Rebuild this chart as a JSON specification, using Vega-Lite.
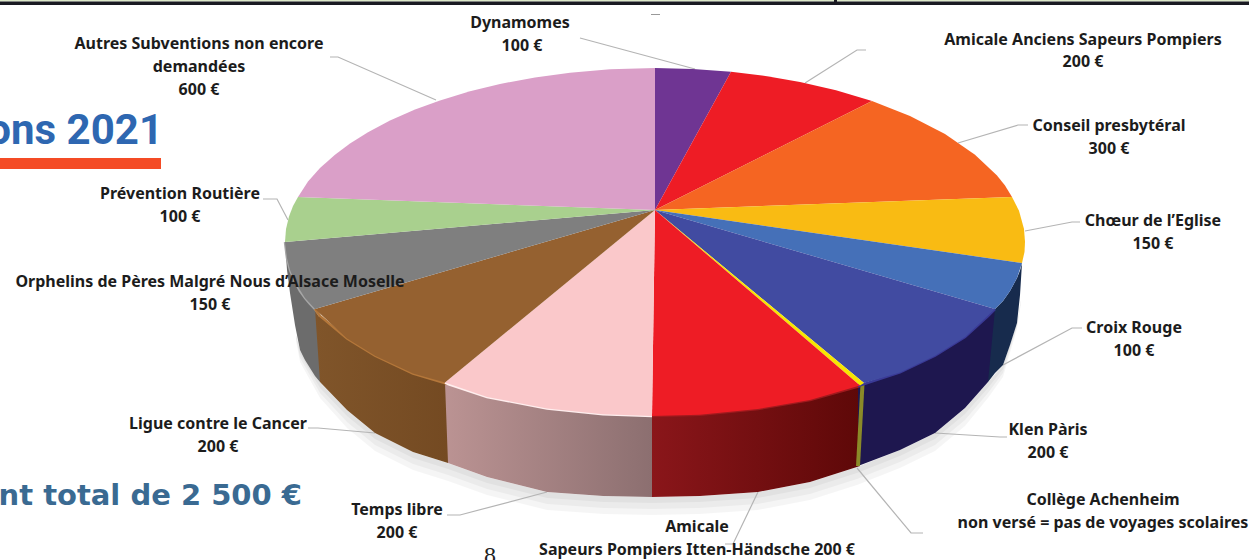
{
"$schema":"https://vega.github.io/schema/vega-lite/v6.json",
"width":1249,"height":560,"padding":0,"autosize":{"type":"none"},"background":"white",
"config":{"view":{"stroke":null}},
"datasets":{
"wedges":[
{"p":"Dynamomes","i":0,"x":655,"y":210},{"p":"Dynamomes","i":1,"x":655,"y":68},{"p":"Dynamomes","i":2,"x":693,"y":69},{"p":"Dynamomes","i":3,"x":731,"y":71.7},
{"p":"Amicale Anciens","i":0,"x":655,"y":210},{"p":"Amicale Anciens","i":1,"x":731,"y":71.7},{"p":"Amicale Anciens","i":2,"x":767,"y":76.2},{"p":"Amicale Anciens","i":3,"x":800,"y":82},{"p":"Amicale Anciens","i":4,"x":836,"y":90.2},{"p":"Amicale Anciens","i":5,"x":872,"y":101},
{"p":"Conseil","i":0,"x":655,"y":210},{"p":"Conseil","i":1,"x":872,"y":101},{"p":"Conseil","i":2,"x":910,"y":116},{"p":"Conseil","i":3,"x":945,"y":134},{"p":"Conseil","i":4,"x":975,"y":154.7},{"p":"Conseil","i":5,"x":997,"y":175.5},{"p":"Conseil","i":6,"x":1005,"y":185.6},{"p":"Conseil","i":7,"x":1012,"y":197},
{"p":"Choeur","i":0,"x":655,"y":210},{"p":"Choeur","i":1,"x":1012,"y":197},{"p":"Choeur","i":2,"x":1019,"y":210.8},{"p":"Choeur","i":3,"x":1024,"y":229},{"p":"Choeur","i":4,"x":1025,"y":242},{"p":"Choeur","i":5,"x":1024.5,"y":252},{"p":"Choeur","i":6,"x":1022,"y":263},
{"p":"Croix Rouge","i":0,"x":655,"y":210},{"p":"Croix Rouge","i":1,"x":1022,"y":263},{"p":"Croix Rouge","i":2,"x":1017,"y":278},{"p":"Croix Rouge","i":3,"x":1010,"y":291},{"p":"Croix Rouge","i":4,"x":1003,"y":301},{"p":"Croix Rouge","i":5,"x":995,"y":309},
{"p":"Klen Paris","i":0,"x":655,"y":210},{"p":"Klen Paris","i":1,"x":995,"y":309},{"p":"Klen Paris","i":2,"x":965,"y":337},{"p":"Klen Paris","i":3,"x":935,"y":355.7},{"p":"Klen Paris","i":4,"x":900,"y":372.4},{"p":"Klen Paris","i":5,"x":864,"y":383},
{"p":"College","i":0,"x":655,"y":210},{"p":"College","i":1,"x":864,"y":383},{"p":"College","i":2,"x":860,"y":385.5},
{"p":"Amicale Itten","i":0,"x":655,"y":210},{"p":"Amicale Itten","i":1,"x":860,"y":385.5},{"p":"Amicale Itten","i":2,"x":810,"y":400},{"p":"Amicale Itten","i":3,"x":758,"y":409},{"p":"Amicale Itten","i":4,"x":700,"y":414.7},{"p":"Amicale Itten","i":5,"x":652,"y":416},
{"p":"Temps libre","i":0,"x":655,"y":210},{"p":"Temps libre","i":1,"x":652,"y":416},{"p":"Temps libre","i":2,"x":603,"y":414.3},{"p":"Temps libre","i":3,"x":547,"y":408.4},{"p":"Temps libre","i":4,"x":487,"y":397},{"p":"Temps libre","i":5,"x":445,"y":382.5},
{"p":"Ligue","i":0,"x":655,"y":210},{"p":"Ligue","i":1,"x":445,"y":382.5},{"p":"Ligue","i":2,"x":413,"y":373.6},{"p":"Ligue","i":3,"x":375,"y":355.7},{"p":"Ligue","i":4,"x":347,"y":338.4},{"p":"Ligue","i":5,"x":315,"y":309},
{"p":"Orphelins","i":0,"x":655,"y":210},{"p":"Orphelins","i":1,"x":315,"y":309},{"p":"Orphelins","i":2,"x":305,"y":298},{"p":"Orphelins","i":3,"x":295,"y":282},{"p":"Orphelins","i":4,"x":290,"y":270},{"p":"Orphelins","i":5,"x":287,"y":258},{"p":"Orphelins","i":6,"x":285,"y":242},
{"p":"Prevention","i":0,"x":655,"y":210},{"p":"Prevention","i":1,"x":285,"y":242},{"p":"Prevention","i":2,"x":286,"y":229},{"p":"Prevention","i":3,"x":289,"y":216.5},{"p":"Prevention","i":4,"x":293,"y":206},{"p":"Prevention","i":5,"x":298,"y":197},
{"p":"Autres","i":0,"x":655,"y":210},{"p":"Autres","i":1,"x":298,"y":197},{"p":"Autres","i":2,"x":308,"y":181.6},{"p":"Autres","i":3,"x":320,"y":168},{"p":"Autres","i":4,"x":335,"y":154.7},{"p":"Autres","i":5,"x":350,"y":143.5},{"p":"Autres","i":6,"x":368,"y":132.2},{"p":"Autres","i":7,"x":390,"y":120.5},{"p":"Autres","i":8,"x":415,"y":109.5},{"p":"Autres","i":9,"x":440,"y":100.4},{"p":"Autres","i":10,"x":470,"y":91.3},{"p":"Autres","i":11,"x":500,"y":84},{"p":"Autres","i":12,"x":535,"y":77.4},{"p":"Autres","i":13,"x":570,"y":72.7},{"p":"Autres","i":14,"x":610,"y":69.3},{"p":"Autres","i":15,"x":655,"y":68}
],
"walls":[
{"p":"Orphelins","x":285,"y":242,"y2":242},{"p":"Orphelins","x":287,"y":258,"y2":270},{"p":"Orphelins","x":290,"y":270,"y2":293},{"p":"Orphelins","x":295,"y":282,"y2":325},{"p":"Orphelins","x":300,"y":291,"y2":350},{"p":"Orphelins","x":305,"y":298,"y2":360},{"p":"Orphelins","x":310,"y":304,"y2":368},{"p":"Orphelins","x":315,"y":309,"y2":376},{"p":"Orphelins","x":320,"y":316,"y2":382},
{"p":"Ligue","x":315,"y":309,"y2":309},{"p":"Ligue","x":320,"y":315.9,"y2":382},{"p":"Ligue","x":347,"y":338.4,"y2":410},{"p":"Ligue","x":375,"y":355.7,"y2":433},{"p":"Ligue","x":413,"y":373.6,"y2":452},{"p":"Ligue","x":448,"y":384,"y2":463},
{"p":"Temps libre","x":445,"y":382.5,"y2":382.5},{"p":"Temps libre","x":448,"y":384,"y2":463},{"p":"Temps libre","x":487,"y":397,"y2":477},{"p":"Temps libre","x":547,"y":408.4,"y2":492},{"p":"Temps libre","x":603,"y":414.3,"y2":496},{"p":"Temps libre","x":652,"y":416,"y2":497},
{"p":"Amicale Itten","x":652,"y":416,"y2":497},{"p":"Amicale Itten","x":700,"y":414.7,"y2":496},{"p":"Amicale Itten","x":758,"y":409,"y2":492},{"p":"Amicale Itten","x":810,"y":400,"y2":482},{"p":"Amicale Itten","x":860,"y":386,"y2":466},
{"p":"Croix Rouge","x":988,"y":316,"y2":382},{"p":"Croix Rouge","x":995,"y":309,"y2":373},{"p":"Croix Rouge","x":1003,"y":301,"y2":365},{"p":"Croix Rouge","x":1010,"y":291,"y2":345},{"p":"Croix Rouge","x":1017,"y":278,"y2":323},{"p":"Croix Rouge","x":1020,"y":270.5,"y2":295},{"p":"Croix Rouge","x":1022,"y":263,"y2":263},
{"p":"Klen Paris","x":858,"y":386,"y2":466},{"p":"Klen Paris","x":900,"y":372.4,"y2":450},{"p":"Klen Paris","x":935,"y":355.7,"y2":433},{"p":"Klen Paris","x":965,"y":337,"y2":408},{"p":"Klen Paris","x":988,"y":316,"y2":382},{"p":"Klen Paris","x":995,"y":309,"y2":309}
],
"shadow":[
{"x":296,"y":335,"a":337,"b":339,"c":341},{"x":300,"y":350,"a":354,"b":358,"c":362},{"x":320,"y":382,"a":388,"b":393,"c":398},{"x":347,"y":410,"a":416,"b":422,"c":428},{"x":375,"y":433,"a":439,"b":445,"c":451},{"x":413,"y":452,"a":458,"b":464,"c":470},{"x":448,"y":463,"a":469,"b":475,"c":481},{"x":487,"y":477,"a":483,"b":489,"c":495},{"x":547,"y":492,"a":498,"b":504,"c":510},{"x":603,"y":496,"a":502,"b":508,"c":514},{"x":652,"y":497,"a":503,"b":509,"c":515},{"x":700,"y":496,"a":502,"b":508,"c":514},{"x":758,"y":492,"a":498,"b":504,"c":510},{"x":810,"y":482,"a":488,"b":494,"c":500},{"x":857,"y":467,"a":473,"b":479,"c":485},{"x":900,"y":450,"a":456,"b":462,"c":468},{"x":935,"y":433,"a":439,"b":445,"c":451},{"x":965,"y":408,"a":414,"b":420,"c":426},{"x":988,"y":382,"a":388,"b":393,"c":398},{"x":1003,"y":365,"a":369,"b":373,"c":377},{"x":1017,"y":323,"a":325,"b":327,"c":329},{"x":1021,"y":300,"a":301,"b":302,"c":303}
],
"leaders":[
{"k":"a","i":0,"x":330,"y":57},{"k":"a","i":1,"x":338,"y":57},{"k":"a","i":2,"x":436,"y":100},
{"k":"b","i":0,"x":580,"y":38},{"k":"b","i":1,"x":695,"y":69},
{"k":"c","i":0,"x":805,"y":83},{"k":"c","i":1,"x":857,"y":50},{"k":"c","i":2,"x":866,"y":50},
{"k":"d","i":0,"x":958,"y":143},{"k":"d","i":1,"x":1018,"y":125},{"k":"d","i":2,"x":1028,"y":125},
{"k":"e","i":0,"x":1025,"y":231},{"k":"e","i":1,"x":1072,"y":222},{"k":"e","i":2,"x":1080,"y":222},
{"k":"f","i":0,"x":1003,"y":365},{"k":"f","i":1,"x":1072,"y":328},{"k":"f","i":2,"x":1082,"y":328},
{"k":"g","i":0,"x":935,"y":433},{"k":"g","i":1,"x":1000,"y":437},{"k":"g","i":2,"x":1007,"y":437},
{"k":"h","i":0,"x":857,"y":468},{"k":"h","i":1,"x":911,"y":533},{"k":"h","i":2,"x":923,"y":533},
{"k":"j","i":0,"x":758,"y":492},{"k":"j","i":1,"x":733,"y":544},{"k":"j","i":2,"x":725,"y":544},
{"k":"l","i":0,"x":547,"y":492},{"k":"l","i":1,"x":460,"y":515},{"k":"l","i":2,"x":447,"y":515},
{"k":"m","i":0,"x":375,"y":433},{"k":"m","i":1,"x":318,"y":428},{"k":"m","i":2,"x":308,"y":428},
{"k":"n","i":0,"x":263,"y":199},{"k":"n","i":1,"x":277,"y":199},{"k":"n","i":2,"x":288,"y":220}
],
"labels":[
{"t":"Dynamomes","x":520,"y":23},{"t":"100 €","x":522,"y":46},
{"t":"Amicale Anciens Sapeurs Pompiers","x":1083,"y":40},{"t":"200 €","x":1083,"y":62},
{"t":"Conseil presbytéral","x":1109,"y":126},{"t":"300 €","x":1109,"y":149},
{"t":"Chœur de l’Eglise","x":1153,"y":221},{"t":"150 €","x":1153,"y":244},
{"t":"Croix Rouge","x":1134,"y":328},{"t":"100 €","x":1134,"y":351},
{"t":"Klen Pàris","x":1048,"y":430},{"t":"200 €","x":1048,"y":453},
{"t":"Collège Achenheim","x":1103,"y":500},{"t":"non versé = pas de voyages scolaires","x":1103,"y":523},
{"t":"Amicale","x":697,"y":527},{"t":"Sapeurs Pompiers Itten-Händsche 200 €","x":697,"y":550},
{"t":"Temps libre","x":397,"y":510},{"t":"200 €","x":397,"y":533},
{"t":"Ligue contre le Cancer","x":218,"y":424},{"t":"200 €","x":218,"y":447},
{"t":"Orphelins de Pères Malgré Nous d’Alsace  Moselle","x":210,"y":282},{"t":"150 €","x":210,"y":305},
{"t":"Prévention Routière","x":180,"y":194},{"t":"100 €","x":180,"y":217},
{"t":"Autres Subventions non encore","x":199,"y":44},{"t":"demandées","x":199,"y":67},{"t":"600 €","x":199,"y":90}
]
},
"encoding":{
"x":{"field":"x","type":"quantitative","axis":null,"scale":{"domain":[0,1249],"nice":false,"zero":false}},
"y":{"field":"y","type":"quantitative","axis":null,"scale":{"domain":[560,0],"nice":false,"zero":false}}
},
"layer":[
{"data":{"values":[{"x":0,"x2":1249,"y":0,"y2":1.5}]},"mark":{"type":"rect","fill":"#dce8c8"},"encoding":{"x2":{"field":"x2"},"y2":{"field":"y2"}}},
{"data":{"values":[{"x":0,"x2":1249,"y":1.5,"y2":5},{"x":834,"x2":837,"y":0,"y2":5}]},"mark":{"type":"rect","fill":"#1a1a22"},"encoding":{"x2":{"field":"x2"},"y2":{"field":"y2"}}},
{"data":{"values":[{"x":651,"x2":660,"y":14,"y2":15}]},"mark":{"type":"rect","fill":"#999999"},"encoding":{"x2":{"field":"x2"},"y2":{"field":"y2"}}},
{"data":{"values":[{"x":0,"x2":161,"y":158,"y2":169}]},"mark":{"type":"rect","fill":"#f44b25"},"encoding":{"x2":{"field":"x2"},"y2":{"field":"y2"}}},
{"data":{"name":"shadow"},"mark":{"type":"area","fill":"#000000","opacity":0.04},"encoding":{"y2":{"field":"c"}}},
{"data":{"name":"shadow"},"mark":{"type":"area","fill":"#000000","opacity":0.04},"encoding":{"y2":{"field":"b"}}},
{"data":{"name":"shadow"},"mark":{"type":"area","fill":"#000000","opacity":0.04},"encoding":{"y2":{"field":"a"}}},
{"data":{"name":"leaders"},"mark":{"type":"line","stroke":"#b4b4b4","strokeWidth":1.2},"encoding":{"detail":{"field":"k"},"order":{"field":"i"}}},
{"data":{"name":"walls"},"transform":[{"filter":"datum.p==='Orphelins'"}],"mark":{"type":"area","fill":"#6c6c6c"},"encoding":{"y2":{"field":"y2"}}},
{"data":{"name":"walls"},"transform":[{"filter":"datum.p==='Ligue'"}],"mark":{"type":"area","fill":{"gradient":"linear","x1":0,"y1":0,"x2":1,"y2":0,"stops":[{"offset":0,"color":"#80552a"},{"offset":1,"color":"#744a22"}]}},"encoding":{"y2":{"field":"y2"}}},
{"data":{"name":"walls"},"transform":[{"filter":"datum.p==='Temps libre'"}],"mark":{"type":"area","fill":{"gradient":"linear","x1":0,"y1":0,"x2":1,"y2":0,"stops":[{"offset":0,"color":"#bb9393"},{"offset":1,"color":"#8c6f70"}]}},"encoding":{"y2":{"field":"y2"}}},
{"data":{"name":"walls"},"transform":[{"filter":"datum.p==='Amicale Itten'"}],"mark":{"type":"area","fill":{"gradient":"linear","x1":0,"y1":0,"x2":1,"y2":0,"stops":[{"offset":0,"color":"#8a161a"},{"offset":1,"color":"#5e0808"}]}},"encoding":{"y2":{"field":"y2"}}},
{"data":{"name":"walls"},"transform":[{"filter":"datum.p==='Croix Rouge'"}],"mark":{"type":"area","fill":"#172b4d"},"encoding":{"y2":{"field":"y2"}}},
{"data":{"name":"walls"},"transform":[{"filter":"datum.p==='Klen Paris'"}],"mark":{"type":"area","fill":"#1e174f"},"encoding":{"y2":{"field":"y2"}}},
{"data":{"values":[{"x":862.5,"y":384,"x2":858,"y2":466}]},"mark":{"type":"rule","stroke":"#8a8a28","strokeWidth":4},"encoding":{"x2":{"field":"x2"},"y2":{"field":"y2"}}},
{"data":{"name":"walls"},"transform":[{"filter":"indexof(['Orphelins','Ligue','Temps libre','Amicale Itten','Klen Paris'],datum.p)>=0"}],"mark":{"type":"line","strokeWidth":2.5},"encoding":{"detail":{"field":"p"},"order":{"field":"x"},"stroke":{"field":"p","legend":null,"scale":{"domain":["Orphelins","Ligue","Temps libre","Amicale Itten","Klen Paris"],"range":["#a6a6a6","#b4773a","#ffeeee","#a01a1e","#3a3a96"]}}}},
{"data":{"name":"wedges"},"mark":{"type":"line","filled":true,"interpolate":"linear-closed","strokeWidth":0},"encoding":{"order":{"field":"i"},"detail":{"field":"p"},"fill":{"field":"p","legend":null,"scale":{"domain":["Dynamomes","Amicale Anciens","Conseil","Choeur","Croix Rouge","Klen Paris","College","Amicale Itten","Temps libre","Ligue","Orphelins","Prevention","Autres"],"range":["#6f3593","#ee1c25","#f56522","#f9bb13","#4570b8","#414ba1","#f7e600","#ee1c25","#fac8ca","#956130","#7f7f7f","#a9d08e","#da9fc8"]}}}},
{"data":{"name":"labels"},"mark":{"type":"text","font":"Noto Sans","fontWeight":"bold","fontSize":16,"align":"center","baseline":"middle","fill":"#1c1c1c"},"encoding":{"text":{"field":"t"}}},
{"data":{"values":[{"t":"8","x":490,"y":556}]},"mark":{"type":"text","font":"Liberation Serif","fontSize":24,"align":"center","baseline":"middle","fill":"#222222"},"encoding":{"text":{"field":"t"}}},
{"data":{"values":[{"t":"ons 2021","x":163,"y":131}]},"mark":{"type":"text","font":"Roboto","fontWeight":"bold","fontSize":42,"align":"right","baseline":"middle","fill":"#2e67b1","clip":true},"encoding":{"text":{"field":"t"}}},
{"data":{"values":[{"t":"nt total de 2 500 €","x":302,"y":496}]},"mark":{"type":"text","font":"DejaVu Sans","fontWeight":"bold","fontSize":29,"align":"right","baseline":"middle","fill":"#3a6a92","clip":true},"encoding":{"text":{"field":"t"}}}
]
}
